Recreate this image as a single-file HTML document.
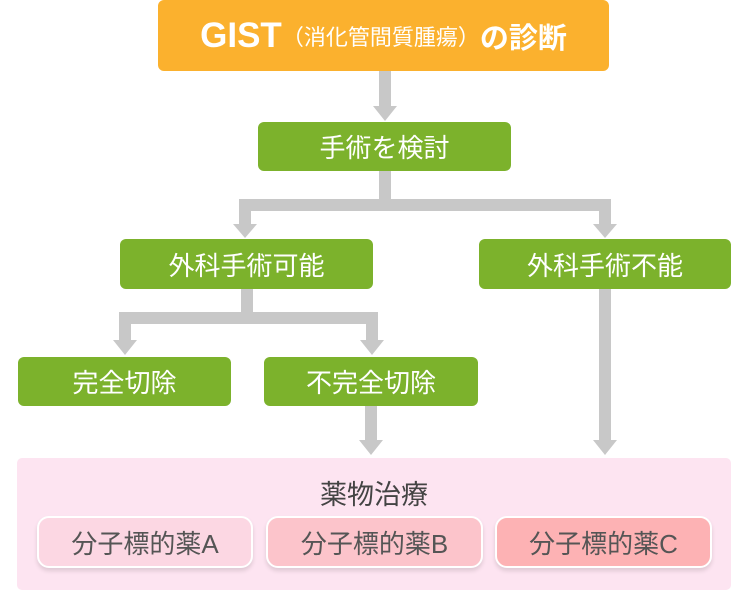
<!DOCTYPE html>
<html><head><meta charset="utf-8"><style>
body{margin:0;width:750px;height:591px;background:#fff;position:relative;overflow:hidden;font-family:"Liberation Sans","Noto Sans CJK JP",sans-serif}
.b{position:absolute;display:flex;align-items:center;justify-content:center;border-radius:6px;color:#fff;font-size:26px;box-sizing:border-box}
.g{background:#7cb22c}
.s{position:absolute;display:flex;align-items:center;justify-content:center;border-radius:12px;border:2px solid #fff;color:#555;font-size:26px;box-sizing:border-box;box-shadow:0 3px 4px rgba(0,0,0,0.12)}
svg{position:absolute;left:0;top:0}
</style></head><body>
<svg width="750" height="591">
<g fill="none" stroke="#c8c8c8" stroke-width="12">
<path d="M385 71V108"/>
<path d="M385 171V205M245 205H605M245 199V226M605 199V226"/>
<path d="M247 289V318M125 318H372M125 312V342M372 312V342"/>
<path d="M371 406V442"/>
<path d="M605 289V442"/>
</g>
<g fill="#c8c8c8">
<path d="M373 106H397L385 121Z"/>
<path d="M233 224H257L245 238Z"/><path d="M593 224H617L605 238Z"/>
<path d="M113 340H137L125 355Z"/><path d="M360 340H384L372 355Z"/>
<path d="M359 440H383L371 455Z"/><path d="M593 440H617L605 455Z"/>
</g>
</svg>
<div class="b" style="left:158px;top:0;width:451px;height:71px;background:#fbb12e;font-weight:bold;font-size:29px"><span style="font-size:35px">GIST</span><span style="font-weight:normal;font-size:22px">（消化管間質腫瘍）</span>の診断</div>
<div class="b g" style="left:258px;top:122px;width:253px;height:49px">手術を検討</div>
<div class="b g" style="left:120px;top:239px;width:253px;height:50px">外科手術可能</div>
<div class="b g" style="left:479px;top:239px;width:252px;height:50px">外科手術不能</div>
<div class="b g" style="left:18px;top:357px;width:213px;height:49px">完全切除</div>
<div class="b g" style="left:264px;top:357px;width:214px;height:49px">不完全切除</div>
<div style="position:absolute;left:17px;top:458px;width:714px;height:132px;background:#fde4f1;border-radius:5px"></div>
<div style="position:absolute;left:17px;top:473px;width:714px;text-align:center;font-size:27px;color:#444">薬物治療</div>
<div class="s" style="left:37px;top:516px;width:216px;height:52px;background:#fcd7e3">分子標的薬A</div>
<div class="s" style="left:266px;top:516px;width:217px;height:52px;background:#fcc4cb">分子標的薬B</div>
<div class="s" style="left:495px;top:516px;width:217px;height:52px;background:#fdb2b4">分子標的薬C</div>
</body></html>
